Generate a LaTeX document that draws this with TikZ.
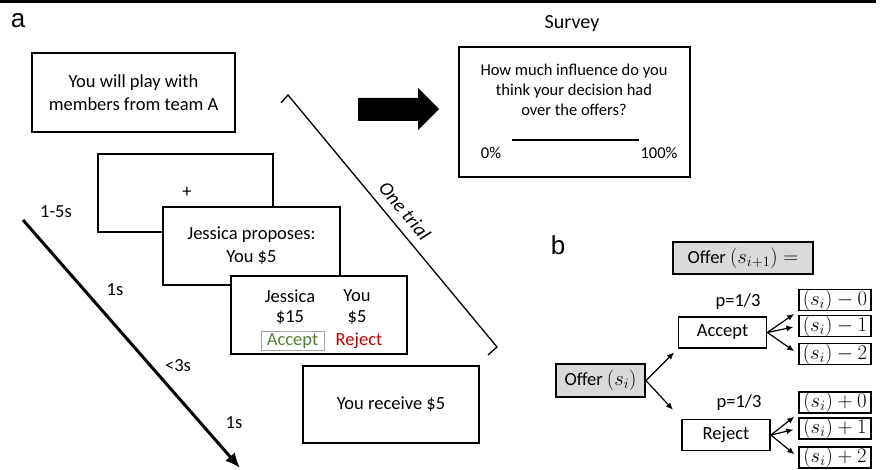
\documentclass[tikz,border=0pt]{standalone}
\usepackage{fontspec}
\setmainfont{Carlito}
\newfontfamily\panelfont{Liberation Sans}
\usepackage{tikz}
\usetikzlibrary{shapes.geometric}
\usetikzlibrary{calc}
\usetikzlibrary{arrows.meta}
\definecolor{acceptgreen}{RGB}{84,130,53}
\definecolor{rejectred}{RGB}{192,0,0}
\definecolor{offergray}{RGB}{217,217,217}
\newcommand{\bigmath}[1]{{\fontsize{22}{24}\selectfont$#1$}}
\tikzset{
  screen/.style={draw=black, fill=white, line width=2.4pt, inner sep=0pt, align=center,
    font=\fontsize{18.5}{23}\selectfont},
  txt/.style={inner sep=0pt, align=center, font=\fontsize{18.5}{23}\selectfont},
  smalltxt/.style={inner sep=0pt, align=center, font=\fontsize{16.5}{20}\selectfont},
  panel/.style={inner sep=0pt, font=\panelfont\fontsize{26}{30}\selectfont},
  offerbox/.style={draw=black, fill=offergray, line width=1.8pt, inner sep=0pt,
    font=\fontsize{18.5}{23}\selectfont},
  choicebox/.style={draw=black, fill=white, line width=1.8pt, inner sep=0pt,
    minimum width=88pt, minimum height=31pt, font=\fontsize{18.5}{23}\selectfont},
  resbox/.style={draw=black, line width=1.5pt, inner sep=0pt, minimum width=72pt,
    minimum height=18pt},
  fan/.style={-{Latex[length=7pt,width=6pt]}, line width=1.2pt, shorten >=5pt}
}
\begin{document}
\begin{tikzpicture}[x=1pt, y=-1pt]
	\useasboundingbox (0,0) rectangle (881,470);
	\draw[line width=2.5pt] (0,1.5) -- (876,1.5);
	\node[panel] (a) at (18,21) {a};
	% task screens
	\node[screen, minimum width=203pt, minimum height=79pt] (intro) at (133.5,92.5) {You will play with\\members from team A};
	\node[screen, minimum width=175pt, minimum height=78pt] (fix) at (185.5,193) {};
	\node[txt] (plus) at (187,192) {+};
	\node[screen, minimum width=177pt, minimum height=78pt] (prop) at (251.5,246) {Jessica proposes:\\You \$5};
	\node[screen, minimum width=176pt, minimum height=78pt] (choice) at (319,315) {};
	\node[txt] (jname) at (290,296) {Jessica};
	\node[txt] (yname) at (357,296) {You};
	\node[txt] (jamt) at (290,318) {\$15};
	\node[txt] (yamt) at (357,318) {\$5};
	\node[txt, draw=gray!70, line width=1pt, minimum width=63pt, minimum height=19pt, text=acceptgreen] (acc) at (292.5,341.5) {Accept};
	\node[txt, text=rejectred] (rej) at (359,341) {Reject};
	\node[screen, minimum width=176pt, minimum height=77pt] (recv) at (391,404.5) {You receive \$5};
	% time line
	\coordinate (t0) at (23,220);
	\coordinate (t1) at (240,468);
	\draw[line width=3pt, -{Latex[length=15pt,width=13pt]}] (t0) -- (t1);
	\node[txt] (d1) at (56,212) {1-5s};
	\node[txt] (d2) at (115,290) {1s};
	\node[txt] (d3) at (178,366) {<3s};
	\node[txt] (d4) at (234,423) {1s};
	% one trial bracket
	\coordinate (ot1) at (281,103);
	\coordinate (ot2) at (288,95);
	\coordinate (ot3) at (497,347);
	\coordinate (ot4) at (488,355);
	\draw[line width=1.3pt] (ot1) -- (ot2) -- (ot3) -- (ot4);
	\path (ot2) -- node[pos=0.5, sloped, above=9pt, txt, font=\itshape\fontsize{19.5}{22}\selectfont] (trial) {One trial} (ot3);
	% survey
	\fill (358,98) -- (418,98) -- (418,88) -- (439,109) -- (418,130) -- (418,121) -- (358,121) -- cycle;
	\node[txt, font=\fontsize{20}{24}\selectfont] (stitle) at (572,24) {Survey};
	\node[screen, minimum width=231pt, minimum height=130pt] (survey) at (574.5,112) {};
	\node[smalltxt] (q) at (574,90) {How much influence do you\\think your decision had\\over the offers?};
	\coordinate (s0) at (512,140);
	\coordinate (s1) at (639,140);
	\draw[line width=1.5pt] (s0) -- (s1);
	\node[smalltxt] (lo) at (491,153) {0\%};
	\node[smalltxt] (hi) at (659,153) {100\%};
	% panel b
	\node[panel] (b) at (558,245) {b};
	\node[offerbox, minimum width=140pt, minimum height=32pt] (next) at (743,258) {Offer \bigmath{(s_{i+1}) =}};
	\node[offerbox, minimum width=89pt, minimum height=33pt] (offer) at (600.5,380.5) {Offer \bigmath{(s_i)}};
	\node[choicebox] (accept) at (722.5,332.5) {Accept};
	\node[choicebox] (reject) at (726,435) {Reject};
	\node[txt] (pa) at (738,302) {p=1/3};
	\node[txt] (pr) at (739,403) {p=1/3};
	\node[resbox] (am0) at (835,300) {\bigmath{(s_i)-0}};
	\node[resbox] (am1) at (835,326) {\bigmath{(s_i)-1}};
	\node[resbox] (am2) at (835,354) {\bigmath{(s_i)-2}};
	\node[resbox] (rp0) at (835,402.5) {\bigmath{(s_i)+0}};
	\node[resbox] (rp1) at (835,428.5) {\bigmath{(s_i)+1}};
	\node[resbox] (rp2) at (835,457.5) {\bigmath{(s_i)+2}};
	\draw[fan] (offer.east) -- (accept.south west);
	\draw[fan, shorten >=12pt] (offer.east) -- (reject.north west);
	\draw[fan] (accept.east) -- (am0.south west);
	\draw[fan] (accept.east) -- (am1.west);
	\draw[fan] (accept.east) -- (am2.west);
	\draw[fan] (reject.east) -- (rp0.south west);
	\draw[fan] (reject.east) -- (rp1.west);
	\draw[fan] (reject.east) -- (rp2.west);
\end{tikzpicture}
\end{document}
